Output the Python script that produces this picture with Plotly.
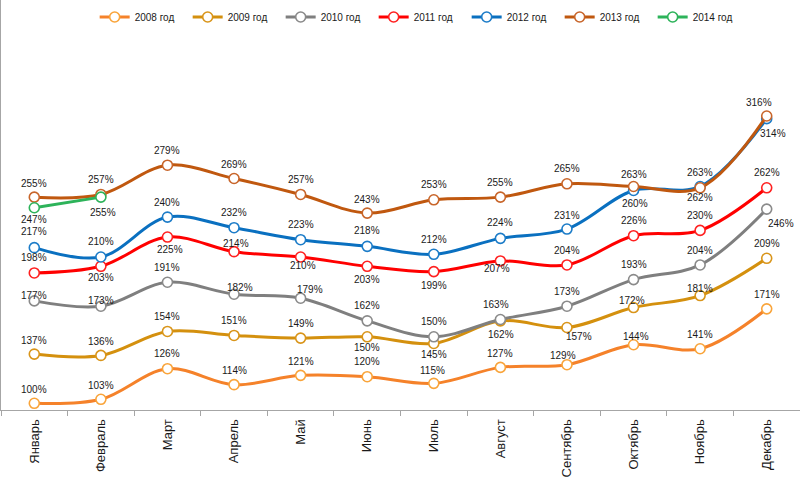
import plotly.graph_objects as go

months = ["Январь", "Февраль", "Март", "Апрель", "Май", "Июнь", "Июль",
          "Август", "Сентябрь", "Октябрь", "Ноябрь", "Декабрь"]

y2008 = [100, 103, 126, 114, 121, 120, 115, 127, 129, 144, 141, 171]
y2009 = [137, 136, 154, 151, 149, 150, 145, 162, 157, 172, 181, 209]
y2010 = [177, 173, 191, 182, 179, 162, 150, 163, 173, 193, 204, 246]
y2011 = [198, 203, 225, 214, 210, 203, 199, 207, 204, 226, 230, 262]
y2012 = [217, 210, 240, 232, 223, 218, 212, 224, 231, 260, 263, 314]
y2013 = [255, 257, 279, 269, 257, 243, 253, 255, 265, 263, 262, 316]
y2014 = [247, 255]

series_names = ["2008 год", "2009 год", "2010 год", "2011 год",
                "2012 год", "2013 год", "2014 год"]
series_values = [y2008, y2009, y2010, y2011, y2012, y2013, y2014]

# styling (not data)
line_colors = ["#F5822A", "#D4900E", "#7F7F7F", "#FF0000", "#0A70C0", "#C0580F", "#2DB35A"]
marker_colors = ["#F9A43A", "#D9951A", "#8A8A8A", "#FF2020", "#1C7CC8", "#C8652A", "#2DB35A"]
label_shifts = [
    [(0, 14), (0, 14), (0, 15), (0, 14), (0, 14), (0, 15), (-1, 13), (0, 14), (-4, 9), (2, 8), (0, 14), (0, 14)],
    [(0, 14), (0, 14), (0, 15), (0, 15), (0, 15), (0, -11), (0, -11), (1, -14), (12, -9), (-2, 7), (0, 7), (0, 15)],
    [(0, 5), (0, 6), (0, 15), (6, 7), (9, 9), (0, 15), (0, 15), (-4, 15), (0, 15), (0, 15), (0, 14), (14, -14)],
    [(0, 15), (0, -11), (3, -12), (2, 8), (2, -9), (0, -13), (0, -14), (-3, -8), (0, 14), (0, 15), (0, 15), (0, 15)],
    [(0, 16), (0, 15), (0, 15), (0, 15), (0, 15), (0, 16), (0, 15), (0, 16), (0, 14), (1, -13), (0, 14), (6, -15)],
    [(0, 14), (0, 15), (0, 15), (0, 14), (0, 15), (0, 14), (0, 15), (0, 15), (0, 15), (0, 12), (0, -10), (-8, 13)],
    [(0, -12), (2, -15)],
]

fig = go.Figure()
annotations = []
for name, vals, lc, mc, shifts in zip(series_names, series_values, line_colors,
                                      marker_colors, label_shifts):
    xs = months[:len(vals)]
    fig.add_trace(go.Scatter(
        x=xs, y=vals, name=name, mode="lines+markers",
        line=dict(color=lc, width=3, shape="spline", smoothing=1.0),
        marker=dict(symbol="circle", size=10, color="white",
                    line=dict(color=mc, width=1.6)),
        cliponaxis=False,
    ))
    for xv, v, (dx, dy) in zip(xs, vals, shifts):
        annotations.append(dict(
            x=xv, y=v, text=f"{v}%", showarrow=False,
            xshift=dx, yshift=dy,
            font=dict(family="Liberation Sans, Arial, sans-serif", size=10, color="#1a1a1a"),
        ))

fig.update_layout(
    width=800, height=487,
    margin=dict(l=1, r=0, t=0, b=77),
    paper_bgcolor="white", plot_bgcolor="white",
    annotations=annotations,
    showlegend=True,
    legend=dict(
        orientation="h", x=0.932, xanchor="right", y=1 - 17 / 410, yanchor="middle",
        entrywidth=48, entrywidthmode="pixels", itemwidth=30,
        font=dict(family="Liberation Sans, Arial, sans-serif", size=10, color="#1a1a1a"),
        bgcolor="rgba(0,0,0,0)", traceorder="normal",
    ),
    xaxis=dict(
        type="category", categoryorder="array", categoryarray=months,
        range=[-0.5, 11.5], showline=True, linecolor="#A6A6A6", linewidth=1,
        ticks="outside", tickson="boundaries", ticklen=5, tickcolor="#A6A6A6",
        tickangle=-90, showgrid=False, zeroline=False, ticklabelstandoff=3,
        tickfont=dict(family="Liberation Sans, Arial, sans-serif", size=13, color="#1a1a1a"),
    ),
    yaxis=dict(
        range=[94.96, 403.2], showline=True, linecolor="#A6A6A6", linewidth=1,
        showticklabels=False, ticks="", showgrid=False, zeroline=False,
    ),
)

fig.write_html("out.html")
